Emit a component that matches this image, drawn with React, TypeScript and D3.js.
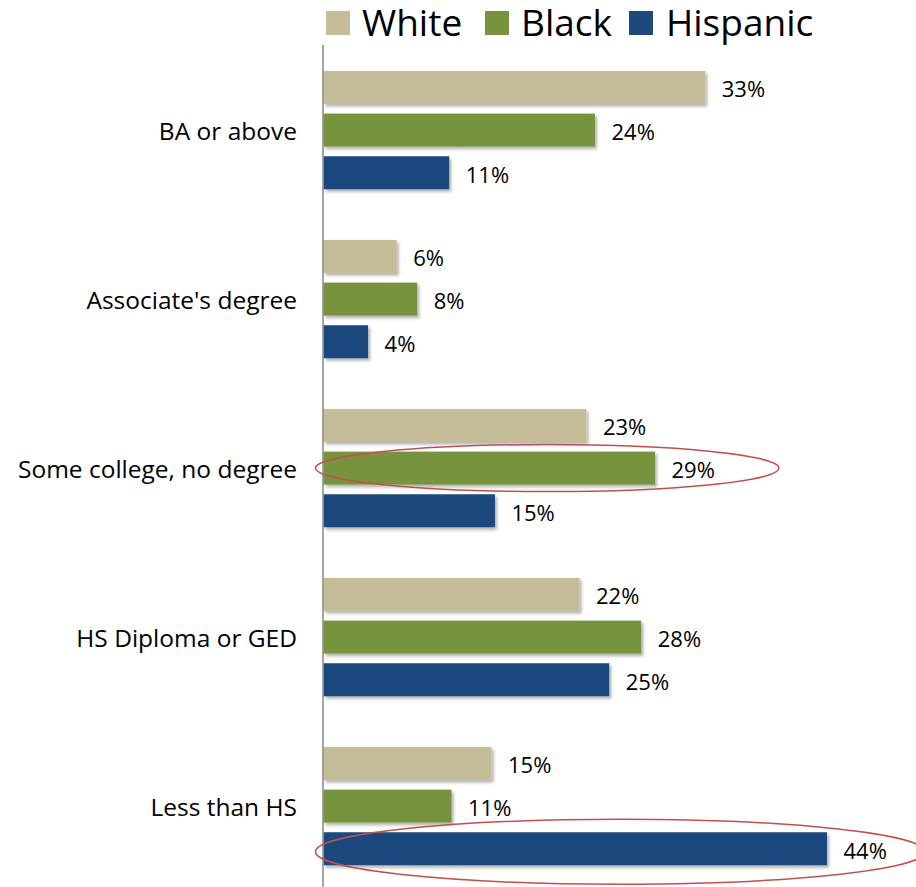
import React from "react";
import * as d3 from "d3";

const categories = ["BA or above", "Associate's degree", "Some college, no degree", "HS Diploma or GED", "Less than HS"];
const seriesNames = ["White", "Black", "Hispanic"];
const whiteValues = [33.4, 6.4, 23.0, 22.4, 14.7];
const blackValues = [23.75, 8.2, 29.0, 27.8, 11.2];
const hispanicValues = [11.0, 3.9, 15.0, 25.0, 44.05];
const seriesColors = ["#c4bd97", "#77933c", "#1f497d"];
const highlights = [
  { category: "Some college, no degree", series: "Black" },
  { category: "Less than HS", series: "Hispanic" },
];

const W = 916;
const H = 887;
const FONT = "'Open Sans', 'Noto Sans', sans-serif";

export default function App() {
  const values = [whiteValues, blackValues, hispanicValues];
  const x = d3.scaleLinear().domain([0, 50]).range([323.5, 323.5 + 571.5]);
  const y0 = d3.scaleBand<string>().domain(categories).range([45.6, 890.6]).paddingInner(0.3).paddingOuter(0.15);
  const y1 = d3.scaleBand<string>().domain(seriesNames).range([0, y0.bandwidth()]).paddingInner(0.226);

  const legendItems = [
    { name: "White", sx: 326, tx: 362 },
    { name: "Black", sx: 485, tx: 521 },
    { name: "Hispanic", sx: 629, tx: 666 },
  ];

  return (
    <svg width={W} height={H} style={{ position: "absolute", left: 0, top: 0 }} fontFamily={FONT}>
      <defs>
        <filter id="sh" x="-5%" y="-20%" width="115%" height="160%">
          <feDropShadow dx="2" dy="2.5" stdDeviation="1.5" floodColor="#000" floodOpacity="0.3" />
        </filter>
      </defs>
      <rect width={W} height={H} fill="#fff" />
      {legendItems.map((l, i) => (
        <g key={l.name}>
          <rect x={l.sx} y={11} width={24} height={24} fill={seriesColors[i]} />
          <text x={l.tx} y={35.5} fontSize={37} fill="#000">{l.name}</text>
        </g>
      ))}
      {categories.map((c, ci) => (
        <g key={c} transform={`translate(0,${y0(c)})`}>
          <text x={297} y={y0.bandwidth() / 2} fontSize={24.5} textAnchor="end" dominantBaseline="central" fill="#000">{c}</text>
          {seriesNames.map((s, si) => {
            const v = values[si][ci];
            const yy = y1(s)!;
            return (
              <g key={s}>
                <rect x={x(0)} y={yy} width={x(v) - x(0)} height={y1.bandwidth()} fill={seriesColors[si]} filter="url(#sh)" />
                <text x={x(v) + 16.5} y={yy + y1.bandwidth() / 2 + 1} fontSize={22} dominantBaseline="central" fill="#000">{Math.round(v)}%</text>
              </g>
            );
          })}
        </g>
      ))}
      <line x1={323} x2={323} y1={45} y2={H} stroke="#868686" strokeWidth={1.5} />
      {highlights.map((h) => {
        const ci = categories.indexOf(h.category);
        const si = seriesNames.indexOf(h.series);
        const v = values[si][ci];
        const cy = y0(h.category)! + y1(h.series)! + y1.bandwidth() / 2;
        const big = h.series === "Hispanic";
        const left = x(0) - 8;
        const right = x(v) + (big ? 98 : 124);
        return (
          <ellipse key={h.category} cx={(left + right) / 2} cy={cy + (big ? 3 : 0)} rx={(right - left) / 2} ry={big ? 32.5 : 23.5} fill="none" stroke="#c0504d" strokeWidth={1.5} />
        );
      })}
    </svg>
  );
}
